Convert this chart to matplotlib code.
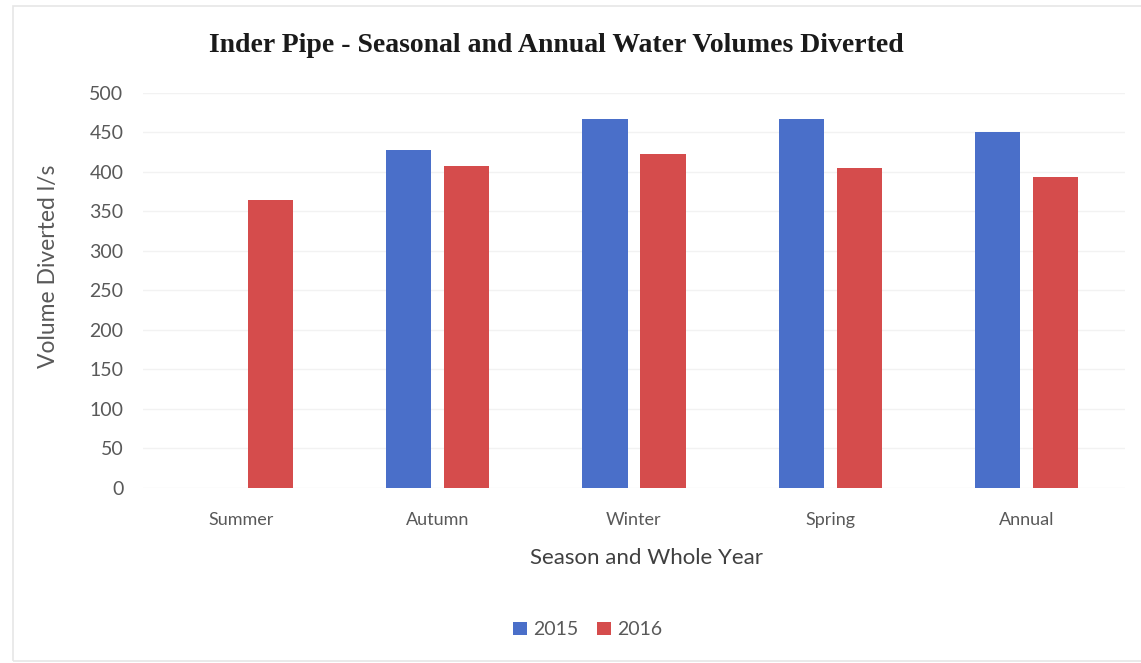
import matplotlib
matplotlib.use("Agg")
import matplotlib.pyplot as plt
import numpy as np
from matplotlib.patches import Rectangle

categories = ["Summer", "Autumn", "Winter", "Spring", "Annual"]
years = ["2015", "2016"]
vol_2015 = [0, 428, 467, 467, 450]
vol_2016 = [365, 408, 422, 405, 393]
yticks = [0, 50, 100, 150, 200, 250, 300, 350, 400, 450, 500]

blue = "#4A6FC9"
red = "#D54C4C"
grey = "#595959"
label_font = ["Lato", "DejaVu Sans"]

fig = plt.figure(figsize=(11.41, 6.63), dpi=100)
fig.patch.set_facecolor("white")
# faint chart border
fig.patches.append(Rectangle((0.011, 0.003), 1.2, 0.988, transform=fig.transFigure,
                             fill=False, edgecolor="#e6e6e6", linewidth=1.2))

ax = fig.add_axes([0.1253, 0.264, 0.8607, 0.596])
x = np.arange(len(categories))
w = 0.23
off = 0.148
ax.bar(x - off, vol_2015, width=w, color=blue, label=years[0])
ax.bar(x + off, vol_2016, width=w, color=red, label=years[1])

ax.set_xlim(-0.5, len(categories) - 0.5)
ax.set_ylim(0, 500)
ax.set_yticks(yticks)
ax.set_xticks(x)
ax.set_xticklabels(categories)
ax.grid(True, axis="y", color="#f2f2f2", linewidth=1)
ax.set_axisbelow(True)
for s in ax.spines.values():
    s.set_visible(False)
ax.tick_params(length=0, colors=grey)
ax.tick_params(axis="y", labelsize=14, pad=14)
ax.tick_params(axis="x", labelsize=13, pad=17)
for lbl in ax.get_xticklabels() + ax.get_yticklabels():
    lbl.set_family(label_font)

ax.set_ylabel("Volume Diverted l/s", fontsize=16.5, color=grey, family=label_font)
ax.yaxis.set_label_coords(-0.0855, 0.56)
ax.set_xlabel("Season and Whole Year", fontsize=16, color="#404040", family=label_font)
ax.xaxis.set_label_coords(0.513, -0.152)

fig.text(0.488, 0.932, "Inder Pipe - Seasonal and Annual Water Volumes Diverted",
         ha="center", va="center", fontsize=20, fontweight="bold",
         family=["Liberation Serif", "DejaVu Serif"], color="#1a1a1a")

leg = fig.legend(loc="center", bbox_to_anchor=(0.515, 0.05), ncol=2, frameon=False,
                 handlelength=0.7, handleheight=0.7, handletextpad=0.3, columnspacing=1.0,
                 prop={"family": label_font, "size": 14})
for t in leg.get_texts():
    t.set_color(grey)

fig.savefig("out.png", dpi=100)
